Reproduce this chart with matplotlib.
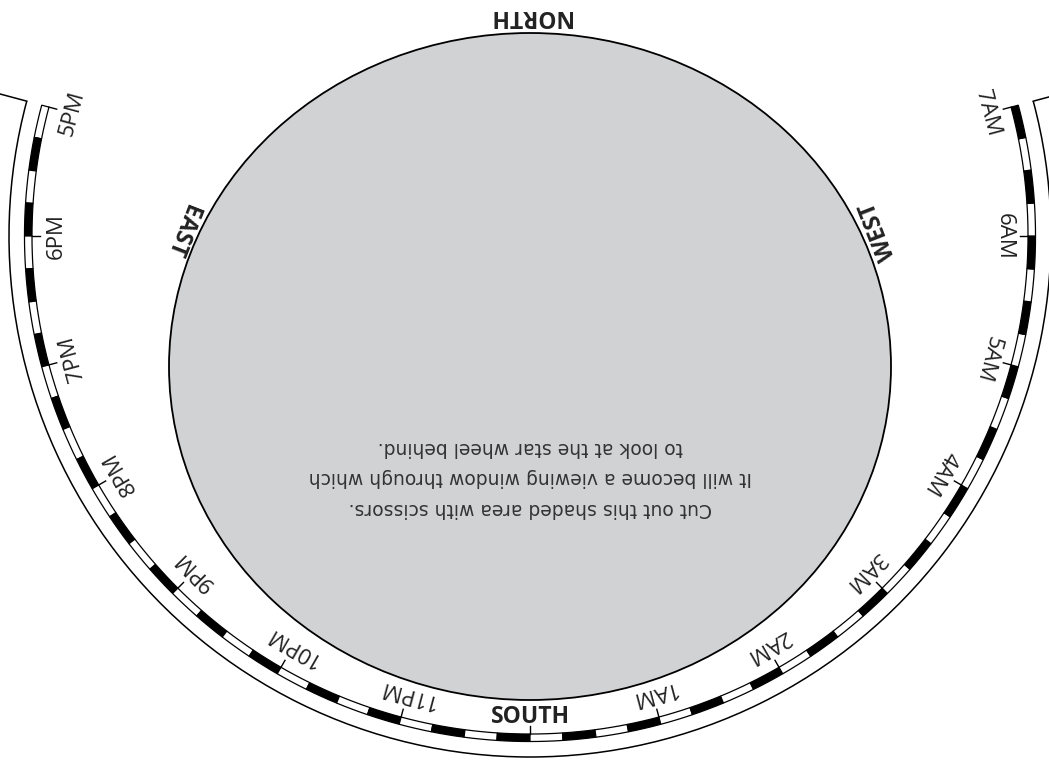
import numpy as np
import matplotlib.pyplot as plt
from matplotlib.patches import Wedge, Ellipse, Arc

# hour scale (midnight sits under SOUTH, no label)
hours = ['5PM', '6PM', '7PM', '8PM', '9PM', '10PM', '11PM', '',
         '1AM', '2AM', '3AM', '4AM', '5AM', '6AM', '7AM']
hour_offset = [-7, -6, -5, -4, -3, -2, -1, 0, 1, 2, 3, 4, 5, 6, 7]
quarters_per_hour = 4

# compass labels and their polar angle around the window centre
compass = ['NORTH', 'WEST', 'SOUTH', 'EAST']
compass_angle = [90, 21.3, -90, 158.7]

note_lines = ['Cut out this shaded area with scissors.',
              'It will become a viewing window through which',
              'to look at the star wheel behind.']

# geometry (pixels, origin = centre of the hour ring)
R_IN, R_OUT, R_EDGE = 498, 505.5, 521
R_LABEL = 474
win_c = (0, -130.5)
win_a, win_b = 361, 333.5
gray = '#d1d2d4'

fig = plt.figure(figsize=(10.49, 7.6), dpi=100)
ax = fig.add_axes([0, 0, 1, 1])
ax.set_xlim(-530, 519)
ax.set_ylim(-524, 236)
ax.set_aspect('equal')
ax.axis('off')

# shaded viewing window
ax.add_patch(Ellipse(win_c, 2 * win_a, 2 * win_b, facecolor=gray,
                     edgecolor='black', lw=1.3, zorder=1))

# hour ring: alternating white / black quarter-hour blocks
start = -90 + 15 * hour_offset[0]
nseg = (hour_offset[-1] - hour_offset[0]) * quarters_per_hour
step = 15 / quarters_per_hour
for k in range(nseg):
    t1 = start + k * step
    ax.add_patch(Wedge((0, 0), R_OUT, t1, t1 + step, width=R_OUT - R_IN,
                       facecolor='black' if k % 2 else 'white',
                       edgecolor='black', lw=0.9, zorder=2))

# outer cut line with radial ends
end = -90 + 15 * hour_offset[-1] + 360
ax.add_patch(Arc((0, 0), 2 * R_EDGE, 2 * R_EDGE, theta1=start, theta2=end,
                 color='black', lw=1.1, zorder=2))
for t in (start, end):
    tr = np.radians(t)
    ax.plot([R_EDGE * np.cos(tr), 620 * np.cos(tr)],
            [R_EDGE * np.sin(tr), 620 * np.sin(tr)], color='black', lw=1.1)

# hour ticks and labels
for lab, h in zip(hours, hour_offset):
    th = -90 + 15 * h
    tr = np.radians(th)
    ax.plot([490 * np.cos(tr), R_IN * np.cos(tr)],
            [490 * np.sin(tr), R_IN * np.sin(tr)], color='black', lw=1.0, zorder=3)
    if lab:
        ax.text(R_LABEL * np.cos(tr), R_LABEL * np.sin(tr), lab,
                rotation=th - 90, rotation_mode='anchor', ha='center', va='center',
                fontsize=16, color='#222222', family='Open Sans')

# compass points, just outside the window
for lab, th in zip(compass, compass_angle):
    tr = np.radians(th)
    rr = win_a * win_b / np.hypot(win_b * np.cos(tr), win_a * np.sin(tr)) + 17
    ax.text(win_c[0] + rr * np.cos(tr), win_c[1] + rr * np.sin(tr), lab,
            rotation=th + 90, rotation_mode='anchor', ha='center', va='center',
            fontsize=16.5, fontweight='bold', color='#222222', family='Open Sans')

# instruction, upside down like the rest of the sheet
ax.text(0, -242, '\n'.join(note_lines), rotation=180, rotation_mode='anchor',
        ha='center', va='center', multialignment='center', fontsize=13.5,
        linespacing=1.78, color='#333333', family='DejaVu Sans')

fig.savefig('out.png', dpi=100)
